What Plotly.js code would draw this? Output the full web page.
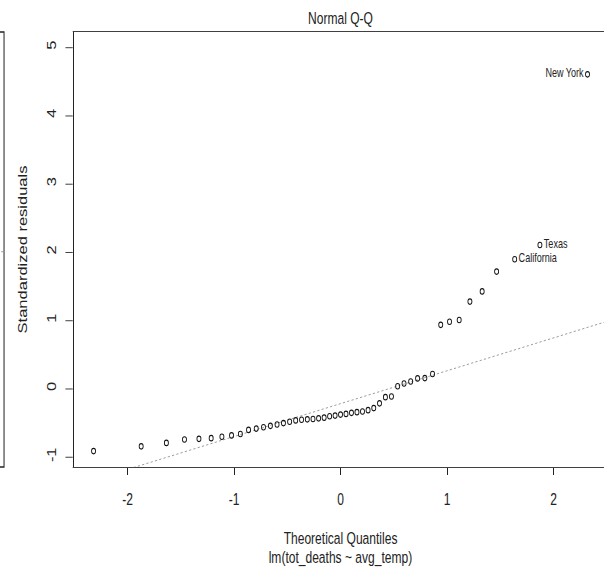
<!DOCTYPE html>
<html>
<head>
<meta charset="utf-8">
<script src="https://cdn.plot.ly/plotly-3.0.1.min.js"></script>
<style>
  html, body { margin: 0; padding: 0; overflow: hidden; background: #fff; }
  /* the figure is laid out wide, then compressed horizontally */
  #qq { width: 860px; height: 570px; transform: scaleX(0.73); transform-origin: 0 0; }
</style>
</head>
<body>
<div id="qq"></div>
<script>
// Theoretical normal quantiles for the 49 observations
const theoQ = [
  -2.3187, -1.8718, -1.6350, -1.4652, -1.3295, -1.2146, -1.1139, -1.0233, -0.9405, -0.8636,
  -0.7915, -0.7233, -0.6584, -0.5961, -0.5361, -0.4780, -0.4213, -0.3660, -0.3119, -0.2586,
  -0.2060, -0.1541, -0.1025, -0.0512, 0.0000, 0.0512, 0.1025, 0.1541, 0.2060, 0.2586,
  0.3119, 0.3660, 0.4213, 0.4780, 0.5361, 0.5961, 0.6584, 0.7233, 0.7915, 0.8636,
  0.9405, 1.0233, 1.1139, 1.2146, 1.3295, 1.4652, 1.6350, 1.8718, 2.3187
];
// Sorted standardized residuals of lm(tot_deaths ~ avg_temp)
const stdResid = [
  -0.91, -0.84, -0.79, -0.74, -0.73, -0.72, -0.70, -0.68, -0.66, -0.60,
  -0.58, -0.56, -0.54, -0.52, -0.50, -0.48, -0.46, -0.45, -0.445, -0.44,
  -0.43, -0.42, -0.40, -0.39, -0.375, -0.365, -0.35, -0.34, -0.33, -0.31,
  -0.28, -0.21, -0.12, -0.11, 0.04, 0.08, 0.11, 0.155, 0.16, 0.22,
  0.94, 0.985, 1.01, 1.28, 1.43, 1.72, 1.90, 2.11, 4.61
];
// Identified observations (rank among the sorted residuals, 1-based)
const idNames = ["California", "Texas", "New York"];
const idRank = [47, 48, 49];

const xTickVals = [-2, -1, 0, 1, 2];
const xTickText = ["-2", "-1", "0", "1", "2"];
const yTickVals = [-1, 0, 1, 2, 3, 4, 5];
const yTickText = ["-1", "0", "1", "2", "3", "4", "5"];

const xRange = [-2.505, 2.505];
const yRange = [-1.143, 5.23];

// qqline: straight line through the first and third quartiles
function quantile7(sorted, p) {
  const h = (sorted.length - 1) * p;
  const lo = Math.floor(h);
  const hi = Math.min(lo + 1, sorted.length - 1);
  return sorted[lo] + (h - lo) * (sorted[hi] - sorted[lo]);
}
const zq = 0.6744898;
const yq1 = quantile7(stdResid, 0.25), yq3 = quantile7(stdResid, 0.75);
const slope = (yq3 - yq1) / (2 * zq);
const intercept = yq1 + slope * zq;
const lineX = xRange.slice();
const lineY = lineX.map(x => intercept + slope * x);

// text labels placed left/right as R's text.id does
const idX = idRank.map(r => theoQ[r - 1]);
const idY = idRank.map(r => stdResid[r - 1]);
const mid = (Math.min(...idX) + Math.max(...idX)) / 2;
const idPos = idX.map(x => (x > mid ? "middle left" : "middle right"));

const ink = "#222";
const font = '"Liberation Sans", Arial, Helvetica, sans-serif';

const traces = [
  {
    x: lineX, y: lineY, type: "scatter", mode: "lines",
    line: { color: "#8c8c8c", width: 1, dash: "dot" },
    hoverinfo: "skip"
  },
  {
    x: theoQ, y: stdResid, type: "scatter", mode: "markers",
    marker: { symbol: "circle-open", size: 5.5, color: "#111", line: { color: "#111", width: 1.15 } }
  },
  {
    // invisible markers give the labels their offset from the points
    x: idX, y: idY, type: "scatter", mode: "markers+text",
    marker: { symbol: "circle", size: 7, color: "rgba(0,0,0,0)", line: { width: 0 } },
    text: idNames, textposition: idPos,
    textfont: { family: font, size: 12.4, color: ink },
    cliponaxis: false
  }
];

const layout = {
  width: 860, height: 570,
  margin: { l: 101, r: 28, t: 32, b: 103 },
  paper_bgcolor: "#fff", plot_bgcolor: "#fff",
  showlegend: false,
  font: { family: font, size: 16.5, color: ink },
  title: {
    text: "Normal Q-Q", xref: "paper", x: 0.5, xanchor: "center",
    yref: "container", y: 1 - 18 / 570, yanchor: "middle",
    font: { family: font, size: 16.5, color: ink }
  },
  xaxis: {
    range: xRange, tickmode: "array", tickvals: xTickVals, ticktext: xTickText,
    ticks: "outside", ticklen: 7, tickwidth: 1.37, tickcolor: ink,
    showline: true, linewidth: 1, linecolor: ink, mirror: true,
    showgrid: false, zeroline: false, ticklabelstandoff: 10,
    title: { text: "Theoretical Quantiles", standoff: 25, font: { family: font, size: 16.5, color: ink } }
  },
  yaxis: {
    range: yRange, tickmode: "array", tickvals: yTickVals, ticktext: yTickText,
    tickangle: -90,
    ticks: "outside", ticklen: 10, tickwidth: 1, tickcolor: ink,
    showline: true, linewidth: 1.37, linecolor: ink, mirror: true,
    showgrid: false, zeroline: false, ticklabelstandoff: 6,
    title: { text: "Standardized residuals", standoff: 19.5, font: { family: font, size: 16.5, color: ink } }
  },
  annotations: [
    {
      text: "lm(tot_deaths ~ avg_temp)", xref: "paper", yref: "paper",
      x: 0.5, y: -0.2069, xanchor: "center", yanchor: "middle", showarrow: false,
      font: { family: font, size: 16.5, color: ink }
    }
  ],
  shapes: [
    // frame of the neighbouring panel on the left
    { type: "rect", xref: "paper", yref: "paper", x0: -0.3, x1: -0.1306, y0: 0, y1: 1,
      line: { color: ink, width: 1.37 }, layer: "above" },
    // its dotted reference line
    { type: "line", xref: "paper", yref: "paper", x0: -0.3, x1: -0.1306, y0: 0.487, y1: 0.495,
      line: { color: "#8c8c8c", width: 1, dash: "dot" }, layer: "above" }
  ]
};

Plotly.newPlot("qq", traces, layout, { displayModeBar: false, staticPlot: true });
</script>
</body>
</html>
